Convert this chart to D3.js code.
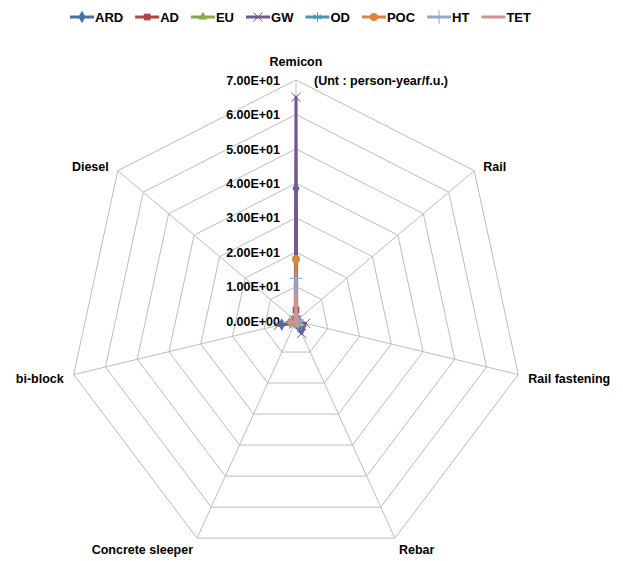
<!DOCTYPE html>
<html>
<head>
<meta charset="utf-8">
<title>Radar chart</title>
<style>
  body, html { margin: 0; padding: 0; background: #fff; }
  svg text { font-family: "Liberation Sans", Arial, sans-serif; font-weight: bold; fill: #000; }
  .grid { fill: none; stroke: #bdbdbd; stroke-width: 1px; }
</style>
</head>
<body>
<svg id="svg" width="623" height="561"></svg>
<script src="https://d3js.org/d3.v7.min.js"></script>
<script>
// categories (axes of the radar)
const axes = ['Remicon', 'Rail', 'Rail fastening', 'Rebar', 'Concrete sleeper', 'bi-block', 'Diesel']
const ticks = [0, 10, 20, 30, 40, 50, 60, 70]
const tickLabels = ['0.00E+00', '1.00E+01', '2.00E+01', '3.00E+01', '4.00E+01', '5.00E+01', '6.00E+01', '7.00E+01']

// series values, one per axis
const ARD = [38.5, 0.2, 0.8, 2.0, 0.6, 4.5, 0.2]
const AD  = [3.2, 0.1, 0.2, 0.6, 0.2, 1.5, 0.1]
const EU  = [0.8, 0.1, 0.2, 0.8, 0.2, 1.0, 0.1]
const GW  = [65, 0.3, 3.0, 4.0, 0.8, 5.5, 0.3]
const OD  = [1.0, 0.2, 1.2, 1.5, 0.3, 1.2, 0.1]
const POC = [18, 0.1, 0.3, 0.8, 0.3, 1.5, 0.1]
const HT  = [12.4, 0.1, 0.6, 1.5, 0.3, 2.0, 0.1]
const TET = [8, 0.1, 0.3, 0.5, 0.2, 1.0, 0.1]

const seriesNames = ['ARD', 'AD', 'EU', 'GW', 'OD', 'POC', 'HT', 'TET']
const seriesValues = [ARD, AD, EU, GW, OD, POC, HT, TET]

// styles
const colors = ['#4572A7', '#AA4643', '#89A54E', '#71588F', '#4198AF', '#DB843D', '#93A9CF', '#D19392']
const symbols = [d3.symbolDiamond, d3.symbolSquare, d3.symbolTriangle, d3.symbolX || d3.symbolCross,
  d3.symbolAsterisk || d3.symbolStar, d3.symbolCircle, d3.symbolPlus || d3.symbolCross, null]
const strokeSymbols = [false, false, false, true, true, false, true, false]
const symbolSizes = [45, 45, 35, 55, 60, 50, 60, 0]

const series = seriesNames.map((name, i) => ({
  name, values: seriesValues[i], color: colors[i], symbol: symbols[i],
  stroke: strokeSymbols[i], size: symbolSizes[i]
}))

const cx = 296, cy = 321
const Rx = 228, Ry = 241

const r = d3.scaleLinear().domain([0, 70]).range([0, 1])
const angle = d3.scaleLinear().domain([0, axes.length]).range([0, 2 * Math.PI])

function pt(v, i) {
  const a = angle(i)
  return [cx + r(v) * Rx * Math.sin(a), cy - r(v) * Ry * Math.cos(a)]
}

const svg = d3.select('#svg')
const g = svg.append('g')

// rings
const line = d3.line()
ticks.slice(1).forEach(t => {
  g.append('path')
    .attr('class', 'grid')
    .attr('d', line(axes.map((_, i) => pt(t, i))) + 'Z')
})

// spokes
g.selectAll('.spoke')
  .data(axes)
  .enter().append('line')
  .attr('class', 'grid')
  .attr('x1', cx).attr('y1', cy)
  .attr('x2', (d, i) => pt(70, i)[0])
  .attr('y2', (d, i) => pt(70, i)[1])

// tick labels along the first axis
g.selectAll('.tick')
  .data(ticks)
  .enter().append('text')
  .attr('x', d => pt(d, 0)[0] - 16)
  .attr('y', d => pt(d, 0)[1])
  .attr('dy', '0.38em')
  .attr('text-anchor', 'end')
  .style('font-size', '12.5px')
  .text((d, i) => tickLabels[i])

// axis labels
const labelOffsets = [[0, -18, 'middle'], [9, -4, 'start'], [10, 4, 'start'], [4, 11, 'start'],
  [-4, 11, 'end'], [-10, 4, 'end'], [-9, -4, 'end']]
g.selectAll('.axis-label')
  .data(axes)
  .enter().append('text')
  .attr('x', (d, i) => pt(70, i)[0] + labelOffsets[i][0])
  .attr('y', (d, i) => pt(70, i)[1] + labelOffsets[i][1])
  .attr('dy', '0.35em')
  .attr('text-anchor', (d, i) => labelOffsets[i][2])
  .style('font-size', '12.5px')
  .text(d => d)

g.append('text')
  .attr('x', 314)
  .attr('y', 81)
  .attr('dy', '0.35em')
  .style('font-size', '12.5px')
  .text('(Unt : person-year/f.u.)')

// series lines and markers
const s = g.selectAll('.series')
  .data(series)
  .enter().append('g')

s.append('path')
  .attr('d', d => line(d.values.map((v, i) => pt(v, i))) + 'Z')
  .style('fill', 'none')
  .style('stroke', d => d.color)
  .style('stroke-width', 3)
  .style('stroke-linejoin', 'round')

s.each(function (d) {
  if (!d.symbol) return
  d3.select(this).selectAll('.marker')
    .data(d.values)
    .enter().append('path')
    .attr('transform', (v, i) => `translate(${pt(v, i)})`)
    .attr('d', d3.symbol().type(d.symbol).size(d.size))
    .style('fill', d.stroke ? 'none' : d.color)
    .style('stroke', d.color)
    .style('stroke-width', d.stroke ? 1 : 0)
})

// legend
const legend = svg.append('g')
let lx = 70
series.forEach(d => {
  const item = legend.append('g').attr('transform', `translate(${lx},17)`)
  item.append('line')
    .attr('x1', 0).attr('x2', 24)
    .style('stroke', d.color)
    .style('stroke-width', 3)
  if (d.symbol) {
    item.append('path')
      .attr('transform', 'translate(12,0)')
      .attr('d', d3.symbol().type(d.symbol).size(d.size))
      .style('fill', d.stroke ? 'none' : d.color)
      .style('stroke', d.color)
      .style('stroke-width', d.stroke ? 1 : 0)
  }
  const t = item.append('text')
    .attr('x', 25)
    .attr('dy', '0.35em')
    .style('font-size', '13px')
    .text(d.name)
  lx += 25 + t.node().getComputedTextLength() + 12
})
</script>
</body>
</html>
